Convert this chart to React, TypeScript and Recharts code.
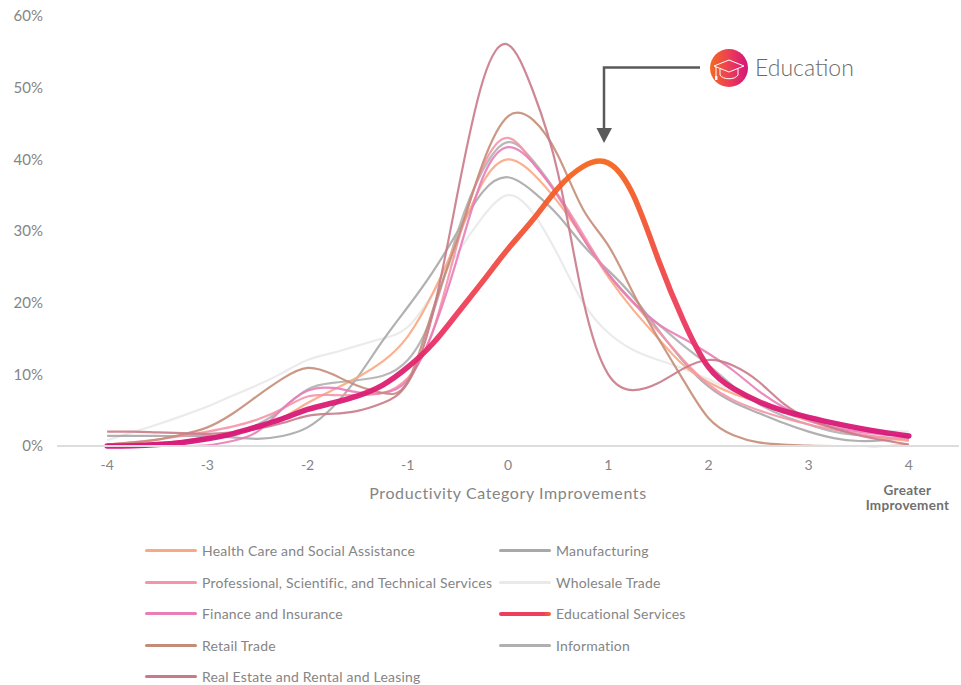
import React from "react";
import { LineChart, Line, XAxis, YAxis, Legend, Label } from "recharts";

const FONT = "Lato, 'Open Sans', sans-serif";
const GREY_TEXT = "#858585";

const xValues = [
  -4, -3.75, -3.5, -3.25, -3, -2.75, -2.5, -2.25, -2, -1.75, -1.5, -1.25, -1, -0.75, -0.5, -0.25, 0,
  0.25, 0.5, 0.75, 1, 1.25, 1.5, 1.75, 2, 2.25, 2.5, 2.75, 3, 3.25, 3.5, 3.75, 4,
];
const xTicks = [-4, -3, -2, -1, 0, 1, 2, 3, 4];
const yTicks = [0, 10, 20, 30, 40, 50, 60];

const healthCare = [
  0.1, 0.2, 0.4, 0.7, 1.2, 1.8, 2.7, 4, 6, 7.8, 9.6, 11.8, 15.3, 21.3, 29, 36.8, 40,
  38, 34, 29, 23.6, 19, 15, 11.3, 8.9, 7.3, 6.1, 4.7, 3.5, 2.4, 1.6, 1.1, 0.7,
];
const professional = [
  0.2, 0.5, 0.9, 1.4, 2, 2.7, 3.7, 5.2, 6.9, 7.1, 7.1, 7.4, 9.5, 16, 28.5, 39, 43,
  39.5, 35, 29.5, 24, 20, 16, 12, 8.6, 6.4, 5, 3.9, 3, 2.3, 1.7, 1.2, 0.9,
];
const finance = [
  0, 0, 0, 0, 0.1, 0.7, 2, 5.2, 7.7, 8.1, 7.5, 7.4, 9.2, 16, 26.5, 37.5, 41.7,
  39.5, 34.8, 29, 24, 20.1, 17, 15, 12.9, 10.5, 7.7, 5.4, 3.6, 2.6, 2, 1.6, 1.3,
];
const retail = [
  0.2, 0.5, 0.9, 1.6, 2.6, 4.5, 7, 9.4, 10.9, 10, 8.4, 7.4, 9, 19, 29, 39.5, 46,
  45.5, 40.5, 33, 28, 21.3, 15, 9.2, 3.9, 1.5, 0.5, 0.2, 0.05, 0, 0, 0, 0.1,
];
const realEstate = [
  2, 2, 1.9, 1.8, 1.7, 1.9, 2.4, 3.2, 4.2, 4.5, 4.9, 6, 8.8, 18.5, 35.5, 51, 56,
  49.5, 38, 20.4, 10, 7.8, 8.8, 10.8, 12, 11.2, 9, 5.9, 3.8, 2.5, 1.5, 0.8, 0.2,
];
const manufacturing = [
  1.4, 1.4, 1.4, 1.4, 1.4, 1.2, 1, 1.4, 2.6, 5.4, 9.6, 14.7, 19.4, 24.3, 30, 35.5, 37.5,
  35.5, 32.2, 28, 24.5, 20.8, 16.2, 11.8, 8.3, 6.1, 4.6, 3.2, 2, 1.1, 0.7, 0.8, 1.2,
];
const wholesale = [
  0.8, 1.9, 3, 4.2, 5.5, 7, 8.5, 10.2, 12, 13, 14, 15, 16.6, 21.3, 27, 32, 35,
  32.5, 26.6, 20, 15.8, 13.4, 12, 10.8, 9.3, 7.6, 6, 4.6, 3.5, 2.8, 2.3, 2.1, 2,
];
const information = [
  0.1, 0.2, 0.3, 0.6, 1, 1.8, 3, 5.2, 7.9, 8.8, 9.2, 9.8, 12, 18.5, 30, 38.5, 42.4,
  39.8, 35, 29, 24, 20, 17, 14, 11.3, 8.3, 5.9, 4.2, 3, 2, 1.5, 1.2, 1,
];
const education = [
  0, 0.05, 0.2, 0.5, 1, 1.7, 2.7, 3.8, 5.1, 6, 7, 8.5, 11, 14.3, 18.6, 23, 27.5,
  31.6, 36, 39, 39.5, 35, 26, 17.5, 11, 8, 6.2, 4.9, 4, 3.2, 2.5, 1.9, 1.4,
];

const chartData = xValues.map((x, i) => ({
  x,
  healthCare: healthCare[i],
  professional: professional[i],
  finance: finance[i],
  retail: retail[i],
  realEstate: realEstate[i],
  manufacturing: manufacturing[i],
  wholesale: wholesale[i],
  information: information[i],
  education: education[i],
}));

// legend reads down the first column, then the second
const legendSeries = [
  { key: "healthCare", name: "Health Care and Social Assistance", color: "#F9A884" },
  { key: "professional", name: "Professional, Scientific, and Technical Services", color: "#F793A8" },
  { key: "finance", name: "Finance and Insurance", color: "#E87DB8" },
  { key: "retail", name: "Retail Trade", color: "#C48D78" },
  { key: "realEstate", name: "Real Estate and Rental and Leasing", color: "#C97A88" },
  { key: "manufacturing", name: "Manufacturing", color: "#A8A8A8" },
  { key: "wholesale", name: "Wholesale Trade", color: "#E9E9E9" },
  { key: "education", name: "Educational Services", color: "#EE3E5C" },
  { key: "information", name: "Information", color: "#B0B0B0" },
];

const drawOrder = ["wholesale", "manufacturing", "information", "healthCare", "professional", "finance", "retail", "realEstate"];

const LegendBlock = () => (
  <div
    style={{
      display: "grid",
      gridTemplateColumns: "354px 320px",
      gridTemplateRows: "repeat(5, 31.5px)",
      gridAutoFlow: "column",
      fontFamily: FONT,
      fontSize: 14,
      letterSpacing: 0.2,
      color: GREY_TEXT,
    }}
  >
    {legendSeries.map((s) => (
      <div key={s.key} style={{ display: "flex", alignItems: "center", whiteSpace: "nowrap" }}>
        <span
          style={{
            display: "inline-block",
            width: 52,
            height: s.key === "education" ? 4 : 3,
            marginRight: 5,
            borderRadius: 2,
            background: s.key === "education" ? "linear-gradient(90deg,#EE3E5C 85%,#F2663A)" : s.color,
          }}
        />
        {s.name}
      </div>
    ))}
  </div>
);

// mortarboard badge next to the callout
const EducationBadge = () => (
  <g>
    <circle cx={729} cy={68} r={19} fill="url(#badgeFill)" />
    <g fill="none" stroke="#fff" strokeWidth={1} strokeLinejoin="round">
      <path d="M714 66 L729 60 L744 66 L729 72 Z" />
      <path d="M720 69 V75 C723 80 735 80 738 75 V69" />
      <path d="M716 67 V76" />
    </g>
    <rect x={715} y={76} width={2.4} height={4} fill="#fff" />
  </g>
);

const App = () => (
  <div style={{ position: "absolute", left: 0, top: 0 }}>
    <LineChart
      width={961}
      height={685}
      data={chartData}
      margin={{ top: 16, right: 2, bottom: 0, left: 0 }}
    >
      <defs>
        <linearGradient id="educationStroke" x1="0" y1="0" x2="0" y2="1">
          <stop offset="0" stopColor="#F5661E" />
          <stop offset="0.3" stopColor="#F1503C" />
          <stop offset="0.55" stopColor="#EE3C5E" />
          <stop offset="0.75" stopColor="#DD2070" />
          <stop offset="1" stopColor="#D6157A" />
        </linearGradient>
        <linearGradient id="badgeFill" x1="0" y1="0" x2="1" y2="0">
          <stop offset="0" stopColor="#F46A21" />
          <stop offset="0.5" stopColor="#EC3E55" />
          <stop offset="1" stopColor="#D4147C" />
        </linearGradient>
      </defs>
      <XAxis
        dataKey="x"
        type="number"
        domain={[-4.5, 4.5]}
        ticks={xTicks}
        height={239}
        tickLine={false}
        tickSize={0}
        tickMargin={14}
        stroke="#DDDDDD"
        strokeWidth={2}
        tick={{ fill: GREY_TEXT, fontFamily: FONT, fontSize: 14 }}
      >
        <Label
          value="Productivity Category Improvements"
          position="insideTop"
          offset={42}
          style={{ fill: GREY_TEXT, fontFamily: FONT, fontSize: 16, letterSpacing: 0.6 }}
        />
      </XAxis>
      <YAxis
        width={57}
        domain={[0, 60]}
        ticks={yTicks}
        axisLine={false}
        tickLine={false}
        tickSize={0}
        tickMargin={14}
        tickFormatter={(v: number) => `${v}%`}
        tick={{ fill: GREY_TEXT, fontFamily: FONT, fontSize: 15 }}
      />
      <Legend
        layout="horizontal"
        align="center"
        verticalAlign="middle"
        content={<LegendBlock />}
        wrapperStyle={{ left: 145, top: 535, width: 700, height: 158 }}
      />
      {drawOrder.map((key) => {
        const s = legendSeries.find((item) => item.key === key)!;
        return (
          <Line
            key={key}
            type="natural"
            dataKey={key}
            name={s.name}
            stroke={s.color}
            strokeWidth={2.2}
            strokeOpacity={0.9}
            dot={false}
            activeDot={false}
            isAnimationActive={false}
          />
        );
      })}
      <Line
        type="natural"
        dataKey="education"
        name="Educational Services"
        stroke="url(#educationStroke)"
        strokeWidth={5.5}
        strokeOpacity={0.95}
        strokeLinecap="round"
        dot={false}
        activeDot={false}
        isAnimationActive={false}
      />
      {/* callout pointing at the education curve */}
      <path d="M700 67.5 H604 V129" fill="none" stroke="#5A5A5A" strokeWidth={2.5} />
      <path d="M596.5 128 H612 L604 143 Z" fill="#5A5A5A" />
      <EducationBadge />
      <text x={755} y={76} fontFamily={FONT} fontSize={23} fontWeight={300} fill="#6B6B6B">
        Education
      </text>
      <text textAnchor="middle" fontFamily={FONT} fontSize={13.5} letterSpacing={0.3} fontWeight={700} fill="#6F6F6F">
        <tspan x={907.5} y={495}>Greater</tspan>
        <tspan x={907.5} y={510}>Improvement</tspan>
      </text>
    </LineChart>
  </div>
);

export default App;
